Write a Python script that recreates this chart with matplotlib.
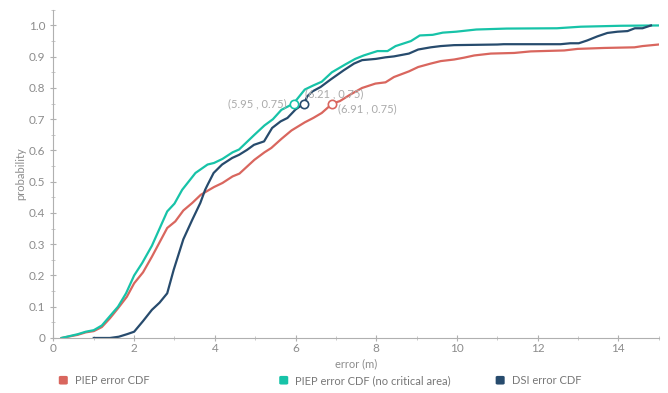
import matplotlib
matplotlib.use("Agg")
import matplotlib.pyplot as plt
from matplotlib.patches import FancyBboxPatch
from matplotlib.ticker import MultipleLocator

# PIEP error CDF
piep_x = [0.2, 0.6, 0.8, 1.0, 1.2, 1.4, 1.6, 1.82, 2.0, 2.22, 2.44, 2.82, 3.02, 3.22, 3.44,
          3.65, 3.86, 3.98, 4.19, 4.44, 4.61, 4.98, 5.23, 5.4, 5.65, 5.9, 6.23, 6.44, 6.65,
          6.86, 6.91, 7.1, 7.36, 7.65, 7.98, 8.23, 8.44, 8.81, 9.04, 9.35, 9.6, 9.93, 10.18,
          10.43, 10.84, 11.42, 11.83, 12.66, 12.99, 13.65, 14.4, 14.6, 15.0]
piep_y = [0.0, 0.01, 0.018, 0.022, 0.035, 0.063, 0.095, 0.132, 0.175, 0.21, 0.26, 0.352, 0.373,
          0.408, 0.432, 0.458, 0.474, 0.483, 0.496, 0.517, 0.526, 0.57, 0.594, 0.608, 0.637,
          0.664, 0.69, 0.704, 0.72, 0.744, 0.75, 0.758, 0.779, 0.80, 0.814, 0.818, 0.835,
          0.853, 0.867, 0.878, 0.886, 0.891, 0.897, 0.904, 0.91, 0.912, 0.917, 0.92, 0.925,
          0.928, 0.93, 0.934, 0.939]

# PIEP error CDF (no critical area)
nca_x = [0.2, 0.6, 0.8, 1.0, 1.2, 1.6, 1.8, 2.0, 2.2, 2.44, 2.82, 3.0, 3.19, 3.52, 3.82, 3.98,
         4.19, 4.44, 4.6, 4.98, 5.23, 5.44, 5.65, 5.95, 6.23, 6.44, 6.65, 6.9, 7.23, 7.48,
         7.69, 8.03, 8.28, 8.48, 8.86, 9.08, 9.4, 9.65, 9.98, 10.48, 11.23, 12.48, 13.07,
         14.07, 15.0]
nca_y = [0.0, 0.012, 0.02, 0.025, 0.04, 0.10, 0.143, 0.2, 0.24, 0.295, 0.405, 0.43, 0.474,
         0.528, 0.555, 0.56, 0.573, 0.594, 0.603, 0.65, 0.68, 0.70, 0.73, 0.75, 0.795, 0.808,
         0.82, 0.85, 0.875, 0.893, 0.904, 0.918, 0.918, 0.934, 0.95, 0.968, 0.97, 0.977, 0.98,
         0.987, 0.99, 0.991, 0.996, 0.999, 1.0]

# DSI error CDF
dsi_x = [1.0, 1.4, 1.62, 1.82, 2.0, 2.22, 2.44, 2.63, 2.82, 2.98, 3.22, 3.44, 3.64, 3.76,
         3.82, 3.97, 4.18, 4.43, 4.6, 4.8, 4.97, 5.22, 5.42, 5.63, 5.8, 6.0, 6.21, 6.29, 6.42,
         6.62, 6.87, 7.2, 7.45, 7.65, 7.99, 8.23, 8.44, 8.81, 9.04, 9.35, 9.6, 9.93, 11.0,
         11.16, 12.57, 12.81, 13.02, 13.23, 13.48, 13.73, 13.98, 14.23, 14.41, 14.6, 14.81]
dsi_y = [0.0, 0.0, 0.004, 0.012, 0.02, 0.054, 0.09, 0.113, 0.143, 0.218, 0.316, 0.378, 0.432,
         0.474, 0.49, 0.528, 0.555, 0.576, 0.586, 0.602, 0.618, 0.629, 0.672, 0.693, 0.704,
         0.731, 0.75, 0.773, 0.789, 0.803, 0.827, 0.857, 0.878, 0.889, 0.893, 0.898, 0.901,
         0.91, 0.923, 0.93, 0.934, 0.937, 0.939, 0.94, 0.94, 0.943, 0.943, 0.952, 0.965,
         0.976, 0.98, 0.982, 0.991, 0.991, 1.0]

labels = ["PIEP error CDF", "PIEP error CDF (no critical area)", "DSI error CDF"]
colors = ["#d9665e", "#17c3a8", "#274b6d"]
marks_x = [6.91, 5.95, 6.21]
marks_y = [0.75, 0.75, 0.75]

plt.rcParams['font.family'] = ['Lato', 'DejaVu Sans']
gray = "#8c8c8c"

fig = plt.figure(figsize=(6.68, 3.93), dpi=100)
ax = fig.add_axes([0.08, 0.14, 0.906, 0.835])

series = [(piep_x, piep_y), (nca_x, nca_y), (dsi_x, dsi_y)]
for (xs, ys), c in zip(series, colors):
    ax.plot(xs, ys, color=c, lw=1.6, zorder=2)

for mx, my, c in zip(marks_x, marks_y, colors):
    ax.plot(mx, my, 'o', ms=6, mfc='white', mec=c, mew=1.2, zorder=3)

lab_col = "#aaaaaa"
ax.annotate(f"({marks_x[1]:.2f} , {marks_y[1]:.2f})", (marks_x[1], marks_y[1]),
            xytext=(-5, 0), textcoords='offset points', ha='right', va='center',
            fontsize=8, color=lab_col)
ax.annotate(f"({marks_x[2]:.2f} , {marks_y[2]:.2f})", (marks_x[2], marks_y[2]),
            xytext=(1, 7), textcoords='offset points', ha='left', va='center',
            fontsize=8, color=lab_col)
ax.annotate(f"({marks_x[0]:.2f} , {marks_y[0]:.2f})", (marks_x[0], marks_y[0]),
            xytext=(4, -4), textcoords='offset points', ha='left', va='center',
            fontsize=8, color=lab_col)

ax.set_xlim(0, 15)
ax.set_ylim(0, 1.05)
ax.xaxis.set_major_locator(MultipleLocator(2))
ax.xaxis.set_minor_locator(MultipleLocator(1))
ax.yaxis.set_major_locator(MultipleLocator(0.1))
ax.yaxis.set_minor_locator(MultipleLocator(0.05))
ax.set_yticks([i / 10 for i in range(11)])
ax.set_yticklabels(["0"] + [f"{i/10:.1f}" for i in range(1, 11)])

for s in ['top', 'right']:
    ax.spines[s].set_visible(False)
for s in ['left', 'bottom']:
    ax.spines[s].set_color("#b0b0b0")
    ax.spines[s].set_linewidth(0.8)
ax.tick_params(which='major', direction='inout', length=5, width=0.8, color="#b0b0b0",
               labelcolor=gray, labelsize=8.5)
ax.tick_params(which='minor', direction='inout', length=3, width=0.6, color="#c0c0c0")
ax.tick_params(axis='x', pad=1)

ax.set_xlabel("error (m)", fontsize=8, color=gray, labelpad=3)
ax.set_ylabel("probability", fontsize=8, color=gray, labelpad=2)

# legend along the bottom
leg_x = [0.088, 0.418, 0.742]
for lx, lab, c in zip(leg_x, labels, colors):
    fig.add_artist(FancyBboxPatch((lx, 0.0215), 0.0135, 0.022,
                                  boxstyle="round,pad=0,rounding_size=0.003",
                                  transform=fig.transFigure, fc=c, ec='none'))
    fig.text(lx + 0.024, 0.032, lab, fontsize=8, color="#777777", va='center', ha='left')

fig.savefig("out.png", dpi=100)
